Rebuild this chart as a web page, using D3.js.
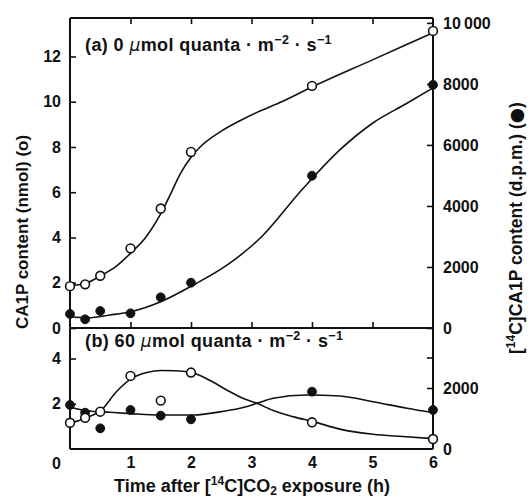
<!DOCTYPE html>
<html><head><meta charset="utf-8">
<script src="https://cdn.jsdelivr.net/npm/d3@7"></script>
<style>
body{margin:0;background:#fff}
text{font-family:"Liberation Sans",Arial,Helvetica,sans-serif;fill:#111}
</style>
</head><body>
<svg id="c" width="529" height="500"></svg>
<script>
// ---- measured data (time in h) ----
const timeH = [0, 0.25, 0.5, 1, 1.5, 2, 4, 6];
// panel (a): 0 umol quanta
const aOpenNmol = [1.85, 1.93, 2.31, 3.52, 5.28, 7.78, 10.7, 13.13];
const aFilledDpm = [460, 285, 557, 482, 1006, 1486, 4990, 7970];
// panel (b): 60 umol quanta
const bOpenNmol = [1.16, 1.38, 1.65, 3.23, 2.14, 3.38, 1.18, 0.44];
const bFilledDpm = [1443, 1191, 678, 1279, 1093, 973, 1880, 1279];

// fitted curves
const aOpenFitX = [0, 0.25, 0.5, 0.75, 1, 1.25, 1.5, 1.65, 1.82, 2.0, 2.15, 2.5, 2.8, 3.15, 3.5, 4, 5, 6];
const aOpenFitY = [1.88, 1.97, 2.3, 2.7, 3.3, 4.0, 5.05, 5.85, 6.8, 7.55, 8.0, 8.7, 9.15, 9.6, 10.0, 10.65, 11.85, 13.05];
const aFilledFitX = [0, 0.3, 0.66, 1, 1.5, 2.04, 2.6, 3.14, 3.83, 4.46, 5.0, 5.57, 6];
const aFilledFitY = [370, 338, 426, 534, 862, 1410, 2066, 2940, 4525, 5836, 6711, 7367, 7870];
const bOpenFitX = [0, 0.28, 0.52, 0.77, 1.02, 1.27, 1.5, 1.75, 2.04, 2.3, 2.59, 2.81, 3.09, 3.36, 3.7, 4.02, 4.46, 5.01, 5.5, 6];
const bOpenFitY = [1.14, 1.39, 1.73, 2.54, 3.12, 3.38, 3.47, 3.46, 3.36, 3.05, 2.61, 2.3, 2.02, 1.7, 1.42, 1.21, 0.88, 0.65, 0.55, 0.46];
const bFilledFitX = [0, 0.28, 0.66, 1.0, 1.49, 2.04, 2.59, 2.81, 3.09, 3.36, 3.91, 4.46, 5.01, 5.57, 6];
const bFilledFitY = [1367, 1256, 1203, 1160, 1115, 1115, 1256, 1334, 1498, 1662, 1770, 1738, 1551, 1334, 1190];

// tick values
const xTicks = [1, 2, 3, 4, 5, 6];
const xInnerTicks = [1, 2, 3, 4, 5];
const aLeftTicks = [0, 2, 4, 6, 8, 10, 12];
const aRightTicks = [0, 2000, 4000, 6000, 8000, 10000];
const bLeftTicks = [0, 2, 4];
const bRightTicks = [0, 2000, 3000];

const svg = d3.select("#c");
const x = d3.scaleLinear().domain([0, 6]).range([70, 433]);
const yAL = d3.scaleLinear().domain([0, 13.7]).range([328, 18]);
const yAR = d3.scaleLinear().domain([0, 10160]).range([328, 18]);
const yBL = d3.scaleLinear().domain([0, 5.35]).range([449, 328]);
const yBR = d3.scaleLinear().domain([0, 3967]).range([449, 328]);

const FS = 16;
function styleAxis(g){
  g.select(".domain").remove();
  g.selectAll(".tick line").attr("stroke", "#111").attr("stroke-width", 1.6);
  g.selectAll("text").attr("font-size", FS).attr("font-weight", "bold").attr("font-family", null);
}

// ticks on top border (down) and middle line (up)
svg.append("g").attr("transform", "translate(0,18)")
  .call(d3.axisTop(x).tickValues(xInnerTicks).tickSize(-6).tickFormat(""))
  .call(styleAxis);
svg.append("g").attr("transform", "translate(0,328)")
  .call(d3.axisBottom(x).tickValues(xInnerTicks).tickSize(-6).tickFormat(""))
  .call(styleAxis);
// bottom x axis labels
svg.append("g").attr("transform", "translate(0,449)")
  .call(d3.axisBottom(x).tickValues(xTicks).tickSize(0).tickPadding(7.5).tickFormat(d3.format("d")))
  .call(styleAxis);

// left / right axes
svg.append("g").attr("transform", "translate(70,0)")
  .call(d3.axisLeft(yAL).tickValues(aLeftTicks).tickSize(-6).tickPadding(9).tickFormat(d3.format("d")))
  .call(styleAxis);
svg.append("g").attr("transform", "translate(433,0)")
  .call(d3.axisRight(yAR).tickValues(aRightTicks).tickSize(-6).tickPadding(10)
    .tickFormat(d => d >= 10000 ? "10\u2009000" : String(d)))
  .call(styleAxis);
const gBL = svg.append("g").attr("transform", "translate(70,0)")
  .call(d3.axisLeft(yBL).tickValues(bLeftTicks).tickSize(-6).tickPadding(9).tickFormat(d3.format("d")))
  .call(styleAxis);
gBL.selectAll(".tick").filter(d => d === 0).select("text").attr("y", 14);
gBL.selectAll(".tick").filter(d => d === 0).select("line").remove();
svg.append("g").attr("transform", "translate(433,0)")
  .call(d3.axisRight(yBR).tickValues(bRightTicks).tickSize(-6).tickPadding(10)
    .tickFormat(d => d === 3000 ? "" : String(d)))
  .call(styleAxis)
  .selectAll(".tick").filter(d => d === 0).select("line").remove();

// frame
const fr = svg.append("g").attr("stroke", "#111").attr("stroke-width", 2).attr("fill", "none");
fr.append("line").attr("x1", x(0)).attr("x2", x(6)).attr("y1", yAL.range()[1]).attr("y2", yAL.range()[1]);
fr.append("line").attr("x1", x(0)).attr("x2", x(6)).attr("y1", yAL(0)).attr("y2", yAL(0));
fr.append("line").attr("x1", x(0)).attr("x2", x(6)).attr("y1", yBL(0)).attr("y2", yBL(0));
fr.append("line").attr("x1", x(0)).attr("x2", x(0)).attr("y1", yAL.range()[1]).attr("y2", yBL(0));
fr.append("line").attr("x1", x(6)).attr("x2", x(6)).attr("y1", yAL.range()[1]).attr("y2", yBL(0));

// curves
function curve(xs, ys, ys_scale){
  const line = d3.line().x(d => x(d[0])).y(d => ys_scale(d[1])).curve(d3.curveMonotoneX);
  svg.append("path").attr("d", line(d3.zip(xs, ys)))
    .attr("fill", "none").attr("stroke", "#111").attr("stroke-width", 1.6);
}
curve(aOpenFitX, aOpenFitY, yAL);
curve(aFilledFitX, aFilledFitY, yAR);
curve(bFilledFitX, bFilledFitY, yBR);
curve(bOpenFitX, bOpenFitY, yBL);

// points
function pts(vals, ys, open){
  svg.append("g").selectAll("circle").data(d3.zip(timeH, vals)).join("circle")
    .attr("cx", d => x(d[0])).attr("cy", d => ys(d[1])).attr("r", 4.4)
    .attr("fill", open ? "#fff" : "#111").attr("stroke", "#111").attr("stroke-width", open ? 1.6 : 1);
}
pts(aFilledDpm, yAR, false);
pts(aOpenNmol, yAL, true);
pts(bFilledDpm, yBR, false);
pts(bOpenNmol, yBL, true);

// panel labels
function panelLabel(y, letter, val){
  const t = svg.append("text").attr("x", 85).attr("y", y).attr("font-size", 18)
    .attr("font-weight", "bold").attr("letter-spacing", 0.4);
  t.append("tspan").text(`(${letter}) ${val} `);
  t.append("tspan").attr("font-family", "DejaVu Sans").attr("font-style", "italic")
    .attr("font-weight", "normal").attr("font-size", 17).text("\u03bc");
  t.append("tspan").text("mol quanta \u00b7 m");
  t.append("tspan").attr("dy", -7).attr("font-size", 12.5).text("\u22122");
  t.append("tspan").attr("dy", 7).text(" \u00b7 s");
  t.append("tspan").attr("dy", -7).attr("font-size", 12.5).text("\u22121");
}
panelLabel(51, "a", "0");
panelLabel(347, "b", "60");

// axis titles
const xt = svg.append("text").attr("x", 252).attr("y", 492).attr("text-anchor", "middle")
  .attr("font-size", 18).attr("font-weight", "bold");
xt.append("tspan").text("Time after [");
xt.append("tspan").attr("dy", -7).attr("font-size", 12).text("14");
xt.append("tspan").attr("dy", 7).text("C]CO");
xt.append("tspan").attr("dy", 3).attr("font-size", 12).text("2");
xt.append("tspan").attr("dy", -3).text(" exposure (h)");

svg.append("text").attr("transform", "translate(28,232) rotate(-90)").attr("text-anchor", "middle")
  .attr("font-size", 17).attr("font-weight", "bold").text("CA1P content (nmol) (o)");

const yr = svg.append("text").attr("transform", "translate(522,228) rotate(-90)").attr("text-anchor", "middle")
  .attr("font-size", 17.5).attr("font-weight", "bold");
yr.append("tspan").text("[");
yr.append("tspan").attr("dy", -7).attr("font-size", 12).text("14");
yr.append("tspan").attr("dy", 7).text("C]CA1P content (d.p.m.) (");
yr.append("tspan").attr("font-family", "DejaVu Sans").text("\u25cf");
yr.append("tspan").text(")");
</script>
</body></html>
